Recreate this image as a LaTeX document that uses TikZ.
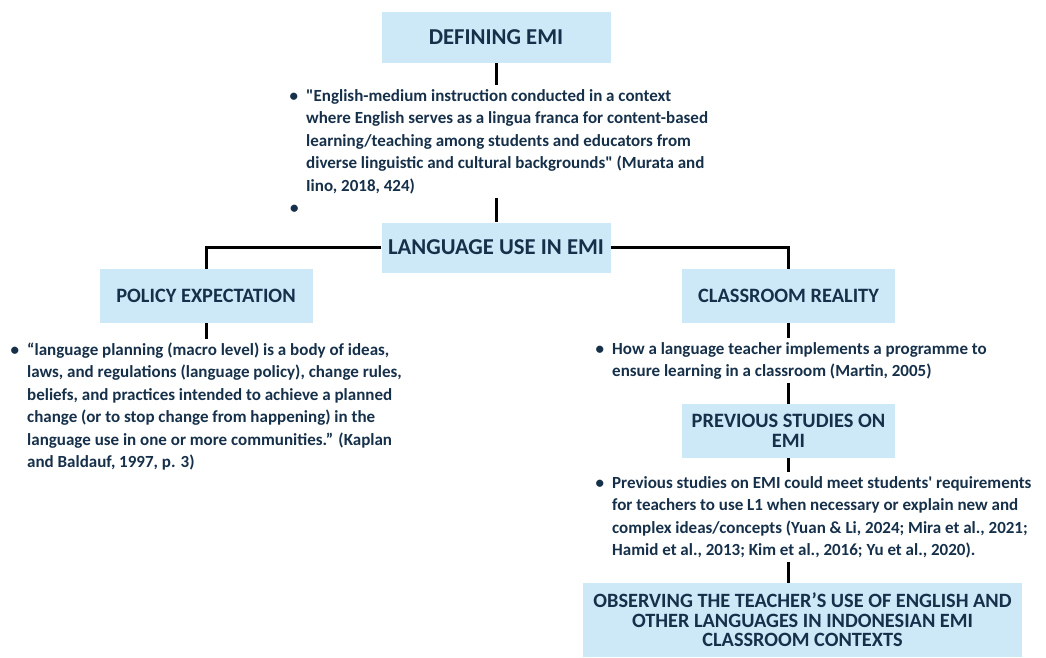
\documentclass[tikz,border=0pt]{standalone}
\usepackage{fontspec}
\setmainfont{Carlito}
\usepackage{xcolor}
\usetikzlibrary{calc}
\usetikzlibrary{positioning}

\definecolor{boxblue}{RGB}{205,233,248}
\definecolor{inkblue}{RGB}{22,48,74}

\begin{document}
\begin{tikzpicture}[x=1pt,y=-1pt]
% 1 = 1px of the layout
    \def\BULLETGAP{8pt}
    \def\LINEW{3pt}
    \def\BOXW{213pt}
    \def\BOXH{54pt}

    \tikzset{
      headbox/.style={fill=boxblue, inner sep=0pt, text=inkblue, align=center,
        minimum width=\BOXW, minimum height=\BOXH,
        font=\bfseries\fontsize{20.4}{20}\selectfont},
      bighead/.style={headbox, minimum width=229pt, minimum height=51pt,
        font=\bfseries\fontsize{22.7}{24}\selectfont},
      quote/.style={inner sep=0pt, anchor=base west, text=inkblue,
        font=\bfseries\fontsize{17}{22.5}\selectfont},
      link/.style={line width=\LINEW, black},
    }
    \newcommand{\bul}{\llap{\textbullet\hspace{\BULLETGAP}}}

    \useasboundingbox (0,0) rectangle (1046,657);

    % TOP BRANCH
    \node[bighead] (def) at (496,37.5) {DEFINING EMI};
    \node[quote] (deftext) at (306,101) {\begin{tabular}[t]{@{}l@{}}
        \bul\textquotedbl English-medium instruction conducted in a context\\
        where English serves as a lingua franca for content-based\\
        learning/teaching among students and educators from\\
        diverse linguistic and cultural backgrounds\textquotedbl\ (Murata and\\
        Iino, 2018, 424)
      \end{tabular}};
    \node[quote] (defbullet) at (306,213.5) {\bul};

    \node[bighead, minimum height=50pt] (lang) at (496,247.5) {LANGUAGE USE IN EMI};

    % LEFT BRANCH
    \node[headbox] (policy) at (206,296) {POLICY EXPECTATION};
    \node[quote] (policytext) at (27,355) {\begin{tabular}[t]{@{}l@{}}
        \bul“language planning (macro level) is a body of ideas,\\
        laws, and regulations (language policy), change rules,\\
        beliefs, and practices intended to achieve a planned\\
        change (or to stop change from happening) in the\\
        language use in one or more communities.” (Kaplan\\
        and Baldauf, 1997, p. 3)
      \end{tabular}};

    % RIGHT BRANCH
    \node[headbox] (class) at (788.5,296) {CLASSROOM REALITY};
    \node[quote] (classtext) at (612,354) {\begin{tabular}[t]{@{}l@{}}
        \bul How a language teacher implements a programme to\\
        ensure learning in a classroom (Martin, 2005)
      \end{tabular}};

    \node[headbox] (prev) at (788.5,431) {PREVIOUS STUDIES ON\\EMI};
    \node[quote] (prevtext) at (612,488) {\begin{tabular}[t]{@{}l@{}}
        \bul Previous studies on EMI could meet students\textquotesingle\ requirements\\
        for teachers to use L1 when necessary or explain new and\\
        complex ideas/concepts (Yuan \& Li, 2024; Mira et al., 2021;\\
        Hamid et al., 2013; Kim et al., 2016; Yu et al., 2020).
      \end{tabular}};

    \node[headbox, minimum width=439pt, minimum height=74pt,
      font=\bfseries\fontsize{20.3}{19.5}\selectfont] (obs) at (802.5,620)
      {OBSERVING THE TEACHER’S USE OF ENGLISH AND\\
       OTHER LANGUAGES IN INDONESIAN EMI\\
       CLASSROOM CONTEXTS};

    % CONNECTORS
    \draw[link] (def.south) -- (deftext.north -| def);
    \draw[link] (deftext.south -| def) -- (lang.north);
    \draw[link] (lang.west) -| (policy.north);
    \draw[link] (lang.east) -| (class.north);
    \draw[link] (policy.south) -- (policytext.north -| policy);
    \draw[link] (class.south) -- (classtext.north -| class);
    \draw[link] (classtext.south -| class) -- (prev.north);
    \draw[link] (prev.south) -- (prevtext.north -| prev);
    \draw[link] (prevtext.south -| prev) -- (obs.north -| prev);

\end{tikzpicture}
\end{document}
